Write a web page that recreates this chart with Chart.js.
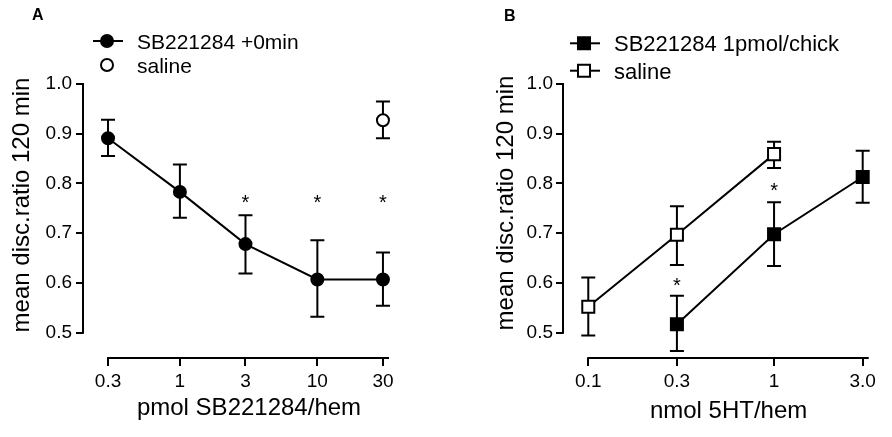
<!DOCTYPE html>
<html><head><meta charset="utf-8">
<script src="https://cdn.jsdelivr.net/npm/chart.js@4.4.0/dist/chart.umd.min.js"></script>
<style>
html,body{margin:0;padding:0;background:#fff;}
#wrap{display:flex;width:892px;height:437px;}
.panel{position:relative;width:446px;height:437px;}
canvas{display:block;}
</style></head><body>
<div id="wrap"><div class="panel"><canvas id="cA" width="446" height="437"></canvas></div><div class="panel"><canvas id="cB" width="446" height="437"></canvas></div></div>
<script>
// ---------- Panel A data ----------
const doseA = [0.3, 1, 3, 10, 30];
const doseALabels = ['0.3', '1', '3', '10', '30'];
const sbA = [0.891, 0.783, 0.678, 0.607, 0.607];
const sbAHi = [0.928, 0.838, 0.736, 0.686, 0.661];
const sbALo = [0.855, 0.731, 0.619, 0.532, 0.554];
const salADose = [30];
const salA = [0.927];
const salAHi = [0.965];
const salALo = [0.891];
const starsADose = [3, 10, 30];
const starsAY = [0.771, 0.771, 0.771];
// ---------- Panel B data ----------
const doseBTicks = [0.1, 0.3, 1, 3];
const doseBLabels = ['0.1', '0.3', '1', '3.0'];
const sbBDose = [0.3, 1, 3];
const sbB = [0.517, 0.698, 0.813];
const sbBHi = [0.574, 0.762, 0.866];
const sbBLo = [0.463, 0.634, 0.761];
const salBDose = [0.1, 0.3, 1];
const salB = [0.552, 0.697, 0.859];
const salBHi = [0.611, 0.754, 0.884];
const salBLo = [0.494, 0.636, 0.831];
const starsBDose = [0.3, 1];
const starsBY = [0.604, 0.795];
// ---------- shared ----------
const yTicks = [0.5, 0.6, 0.7, 0.8, 0.9, 1.0];
const FONT = '"Liberation Sans", Arial, Helvetica, sans-serif';

const pts = (xs, ys) => xs.map((x, i) => ({x: x, y: ys[i]}));

const panelPlugin = {
  id: 'panel',
  beforeDatasetsDraw(chart, args, o) {
    const ctx = chart.ctx, xs = chart.scales.x, ys = chart.scales.y, ca = chart.chartArea;
    ctx.save();
    ctx.strokeStyle = '#000';
    ctx.lineWidth = 2;
    ctx.lineCap = 'butt';
    // y axis line from first to last tick
    ctx.beginPath();
    ctx.moveTo(ca.left, ys.getPixelForValue(yTicks[0]) + 1);
    ctx.lineTo(ca.left, ys.getPixelForValue(yTicks[yTicks.length - 1]) - 1);
    ctx.stroke();
    // x axis line from first tick to right edge
    ctx.beginPath();
    ctx.moveTo(xs.getPixelForValue(o.xTicks[0]) - 1, ca.bottom);
    ctx.lineTo(ca.right, ca.bottom);
    ctx.stroke();
    // error bars
    chart.data.datasets.forEach(ds => {
      ds.data.forEach((p, i) => {
        const px = xs.getPixelForValue(p.x);
        const hi = ys.getPixelForValue(ds.errHi[i]);
        const lo = ys.getPixelForValue(ds.errLo[i]);
        ctx.beginPath();
        ctx.moveTo(px, hi); ctx.lineTo(px, lo);
        ctx.moveTo(px - 7, hi); ctx.lineTo(px + 7, hi);
        ctx.moveTo(px - 7, lo); ctx.lineTo(px + 7, lo);
        ctx.stroke();
      });
    });
    ctx.restore();
  },
  afterDraw(chart, args, o) {
    const ctx = chart.ctx, xs = chart.scales.x, ys = chart.scales.y;
    ctx.save();
    ctx.fillStyle = '#000';
    // significance stars
    ctx.font = o.starSize + 'px ' + FONT;
    ctx.textAlign = 'center';
    ctx.textBaseline = 'alphabetic';
    o.starsX.forEach((x, i) => {
      ctx.fillText('*', xs.getPixelForValue(x), ys.getPixelForValue(o.starsY[i]) + 0.575 * o.starSize);
    });
    // panel letter
    ctx.font = 'bold 16px ' + FONT;
    ctx.textAlign = 'left';
    ctx.fillText(o.letter, o.letterX, o.letterY);
    // legend
    const L = o.legend;
    ctx.font = L.size + 'px ' + FONT;
    L.rows.forEach(r => {
      const ds = chart.data.datasets[r.ds];
      ctx.strokeStyle = '#000';
      ctx.lineWidth = 2;
      if (r.line) {
        ctx.beginPath();
        ctx.moveTo(L.x0, r.y); ctx.lineTo(L.x1, r.y);
        ctx.stroke();
      }
      ctx.beginPath();
      if (ds.pointStyle === 'rect') {
        const s = Math.SQRT1_2 * ds.pointRadius;
        ctx.rect(L.mx - s, r.y - s, 2 * s, 2 * s);
      } else {
        ctx.arc(L.mx, r.y, ds.pointRadius, 0, Math.PI * 2);
      }
      ctx.fillStyle = ds.pointBackgroundColor;
      ctx.fill();
      ctx.stroke();
      ctx.fillStyle = '#000';
      ctx.fillText(ds.label, L.tx, r.y + 0.358 * L.size);
    });
    // axis titles
    ctx.font = o.titleSize + 'px ' + FONT;
    ctx.textAlign = 'center';
    ctx.fillText(o.xTitle, o.xTitleX, o.xTitleY);
    ctx.save();
    ctx.translate(o.yTitleX, o.yTitleY);
    ctx.rotate(-Math.PI / 2);
    ctx.fillText(o.yTitle, 0, 0);
    ctx.restore();
    ctx.restore();
  }
};

function makeScales(xMin, xMax, xTicks, xLabels, yWidth, yPad) {
  const tickFont = {family: FONT, size: 19};
  return {
    x: {
      type: 'logarithmic', min: xMin, max: xMax,
      afterBuildTicks: s => { s.ticks = xTicks.map(v => ({value: v})); },
      afterFit: s => { s.height = 79; },
      border: {display: false},
      grid: {display: true, drawOnChartArea: false, drawTicks: true, tickLength: 8, tickWidth: 2, tickColor: '#000', lineWidth: 2, color: '#000'},
      ticks: {callback: (v, i) => xLabels[i], font: tickFont, color: '#000', padding: 4, maxRotation: 0, autoSkip: false}
    },
    y: {
      type: 'linear', min: 0.449, max: 1.0,
      afterBuildTicks: s => { s.ticks = yTicks.map(v => ({value: v})); },
      afterFit: s => { s.width = yWidth; },
      border: {display: false},
      grid: {display: true, drawOnChartArea: false, drawTicks: true, tickLength: 7, tickWidth: 2, tickColor: '#000', lineWidth: 2, color: '#000'},
      ticks: {callback: v => Number(v).toFixed(1), font: tickFont, color: '#000', padding: yPad}
    }
  };
}

const baseDs = {borderColor: '#000', borderWidth: 2, pointBorderColor: '#000', pointBorderWidth: 2, tension: 0, clip: false, pointHoverRadius: 6};

new Chart(document.getElementById('cA'), {
  type: 'line',
  data: {
    datasets: [
      Object.assign({}, baseDs, {label: 'SB221284 +0min', data: pts(doseA, sbA), errHi: sbAHi, errLo: sbALo,
        showLine: true, pointStyle: 'circle', pointRadius: 6, pointBackgroundColor: '#000', backgroundColor: '#000'}),
      Object.assign({}, baseDs, {label: 'saline', data: pts(salADose, salA), errHi: salAHi, errLo: salALo,
        showLine: false, pointStyle: 'circle', pointRadius: 6, pointBackgroundColor: '#fff', backgroundColor: '#fff'})
    ]
  },
  options: {
    responsive: false, animation: false, devicePixelRatio: 1,
    layout: {padding: {top: 84, right: 57, bottom: 0, left: 0}},
    scales: makeScales(0.1973, 33.2, doseA, doseALabels, 83, 4),
    plugins: {
      legend: {display: false}, tooltip: {enabled: false},
      panel: {
        xTicks: doseA, starsX: starsADose, starsY: starsAY, starSize: 20,
        letter: 'A', letterX: 32, letterY: 20,
        legend: {x0: 93, x1: 123, mx: 107, tx: 137, size: 21, rows: [{ds: 0, y: 41, line: true}, {ds: 1, y: 65, line: false}]},
        titleSize: 24, xTitle: 'pmol SB221284/hem', xTitleX: 249, xTitleY: 415,
        yTitle: 'mean disc.ratio 120 min', yTitleX: 28.5, yTitleY: 205
      }
    }
  },
  plugins: [panelPlugin]
});

new Chart(document.getElementById('cB'), {
  type: 'line',
  data: {
    datasets: [
      Object.assign({}, baseDs, {label: 'SB221284 1pmol/chick', data: pts(sbBDose, sbB), errHi: sbBHi, errLo: sbBLo,
        showLine: true, pointStyle: 'rect', pointRadius: 8.5, pointBackgroundColor: '#000', backgroundColor: '#000'}),
      Object.assign({}, baseDs, {label: 'saline', data: pts(salBDose, salB), errHi: salBHi, errLo: salBLo,
        showLine: true, pointStyle: 'rect', pointRadius: 8.5, pointBackgroundColor: '#fff', backgroundColor: '#fff'})
    ]
  },
  options: {
    responsive: false, animation: false, devicePixelRatio: 1,
    layout: {padding: {top: 84, right: 23.3, bottom: 0, left: 0}},
    scales: makeScales(0.0731, 3.232, doseBTicks, doseBLabels, 117, 3),
    plugins: {
      legend: {display: false}, tooltip: {enabled: false},
      panel: {
        xTicks: doseBTicks, starsX: starsBDose, starsY: starsBY, starSize: 20,
        letter: 'B', letterX: 58, letterY: 20.5,
        legend: {x0: 124, x1: 154, mx: 138, tx: 168, size: 22, rows: [{ds: 0, y: 43.3, line: true}, {ds: 1, y: 70.7, line: true}]},
        titleSize: 24, xTitle: 'nmol 5HT/hem', xTitleX: 282.6, xTitleY: 418,
        yTitle: 'mean disc.ratio 120 min', yTitleX: 66.5, yTitleY: 203
      }
    }
  },
  plugins: [panelPlugin]
});
</script>
</body></html>
